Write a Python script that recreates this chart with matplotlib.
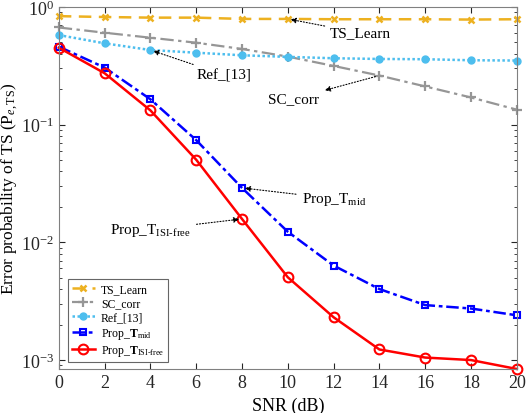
import matplotlib
matplotlib.use("Agg")
import matplotlib.pyplot as plt
from matplotlib.ticker import LogLocator, NullFormatter, MultipleLocator

plt.rcParams['font.family'] = ['Liberation Serif', 'DejaVu Serif']
plt.rcParams['mathtext.fontset'] = 'custom'
plt.rcParams['mathtext.rm'] = 'Liberation Serif'
plt.rcParams['mathtext.it'] = 'Liberation Serif:italic'
plt.rcParams['mathtext.bf'] = 'Liberation Serif:bold'

# data
snr = [0, 2, 4, 6, 8, 10, 12, 14, 16, 18, 20]
ts_learn = [0.834, 0.82, 0.81, 0.81, 0.79, 0.79, 0.785, 0.785, 0.785, 0.78, 0.785]
sc_corr = [0.668, 0.603, 0.547, 0.496, 0.439, 0.378, 0.315, 0.261, 0.211, 0.170, 0.134]
ref13 = [0.576, 0.49, 0.43, 0.408, 0.388, 0.376, 0.366, 0.361, 0.359, 0.352, 0.35]
prop_mid = [0.459, 0.305, 0.164, 0.0738, 0.029, 0.0123, 0.00635, 0.00401, 0.00293, 0.00274, 0.0024]
prop_isi = [0.45, 0.273, 0.132, 0.0503, 0.0158, 0.00505, 0.00231, 0.00123, 0.00105, 0.001, 0.00084]

fig = plt.figure(figsize=(5.3, 4.14), dpi=100)
ax = fig.add_axes([0.111, 0.106, 0.864, 0.875])

ax.semilogy(snr, ts_learn, color='#EDB120', ls=(0, (5, 3)), lw=1.8, marker='x', ms=5, mew=1.8,
            label='TS_Learn', clip_on=False)
ax.semilogy(snr, sc_corr, color='#969696', ls=(0, (6, 2, 1.5, 2)), lw=1.6, marker='+', ms=7, mew=1.6,
            label='SC_corr', clip_on=False)
ax.semilogy(snr, ref13, color='#4DBEEE', ls=(0, (1, 1)), lw=1.8, marker='o', ms=5,
            label='Ref_[13]', clip_on=False)
ax.semilogy(snr, prop_mid, color='#0000FF', ls=(0, (5, 1.5, 1.5, 1.5)), lw=1.8, marker='s', ms=5,
            mfc='none', mew=1.5, label=r'Prop_$\mathbf{T}_{\rm mid}$', clip_on=False)
ax.semilogy(snr, prop_isi, color='#FF0000', ls='-', lw=1.8, marker='o', ms=7,
            mfc='none', mew=1.5, label=r'Prop_$\mathbf{T}_{\rm ISI\text{-}free}$', clip_on=False)

ax.set_xlim(0, 20)
ax.set_ylim(10 ** -3.077, 1)
ax.xaxis.set_major_locator(MultipleLocator(2))
ax.yaxis.set_major_locator(LogLocator(base=10, numticks=10))
ax.yaxis.set_minor_locator(LogLocator(base=10, subs=range(2, 10), numticks=20))
ax.yaxis.set_minor_formatter(NullFormatter())
ax.tick_params(which='both', direction='in', top=True, right=True, labelsize=13, colors='#262626')
ax.tick_params(which='major', length=4)
ax.tick_params(which='minor', length=2)
for s in ax.spines.values():
    s.set_color('#808080')

ax.set_xlabel('SNR (dB)', fontsize=13)
ax.set_ylabel(r'Error probability of TS (P$_{e,\mathrm{TS}}$)', fontsize=12.5)
ax.yaxis.set_label_coords(-0.085, 0.5)

arw = dict(arrowstyle='-|>', ls=':', lw=0.8, color='black', mutation_scale=8)
ax.annotate('TS_Learn', xy=(10, 0.79), xytext=(11.85, 0.6), fontsize=11,
            va='center', arrowprops=arw)
ax.annotate('Ref_[13]', xy=(4, 0.43), xytext=(6.0, 0.265), fontsize=11,
            va='center', arrowprops=arw)
ax.annotate('SC_corr', xy=(14, 0.261), xytext=(9.15, 0.166), fontsize=11,
            va='center', arrowprops=dict(arw, arrowstyle='<|-'))
ax.annotate(r'Prop_T$_{\rm mid}$', xy=(8, 0.029), xytext=(10.6, 0.0235), fontsize=11,
            va='center', arrowprops=arw)
ax.annotate(r'Prop_T$_{\rm ISI\text{-}free}$', xy=(8, 0.0158), xytext=(2.25, 0.0128), fontsize=11,
            va='center', arrowprops=arw)

leg = ax.legend(loc='lower left', fontsize=8.5, frameon=True, fancybox=False,
                handlelength=2.0, borderpad=0.3, labelspacing=0.2, handletextpad=0.5,
                borderaxespad=0, bbox_to_anchor=(0.02, 0.02))
leg.get_frame().set_edgecolor('#404040')
leg.get_frame().set_linewidth(0.8)

fig.savefig('out.png', dpi=100)
